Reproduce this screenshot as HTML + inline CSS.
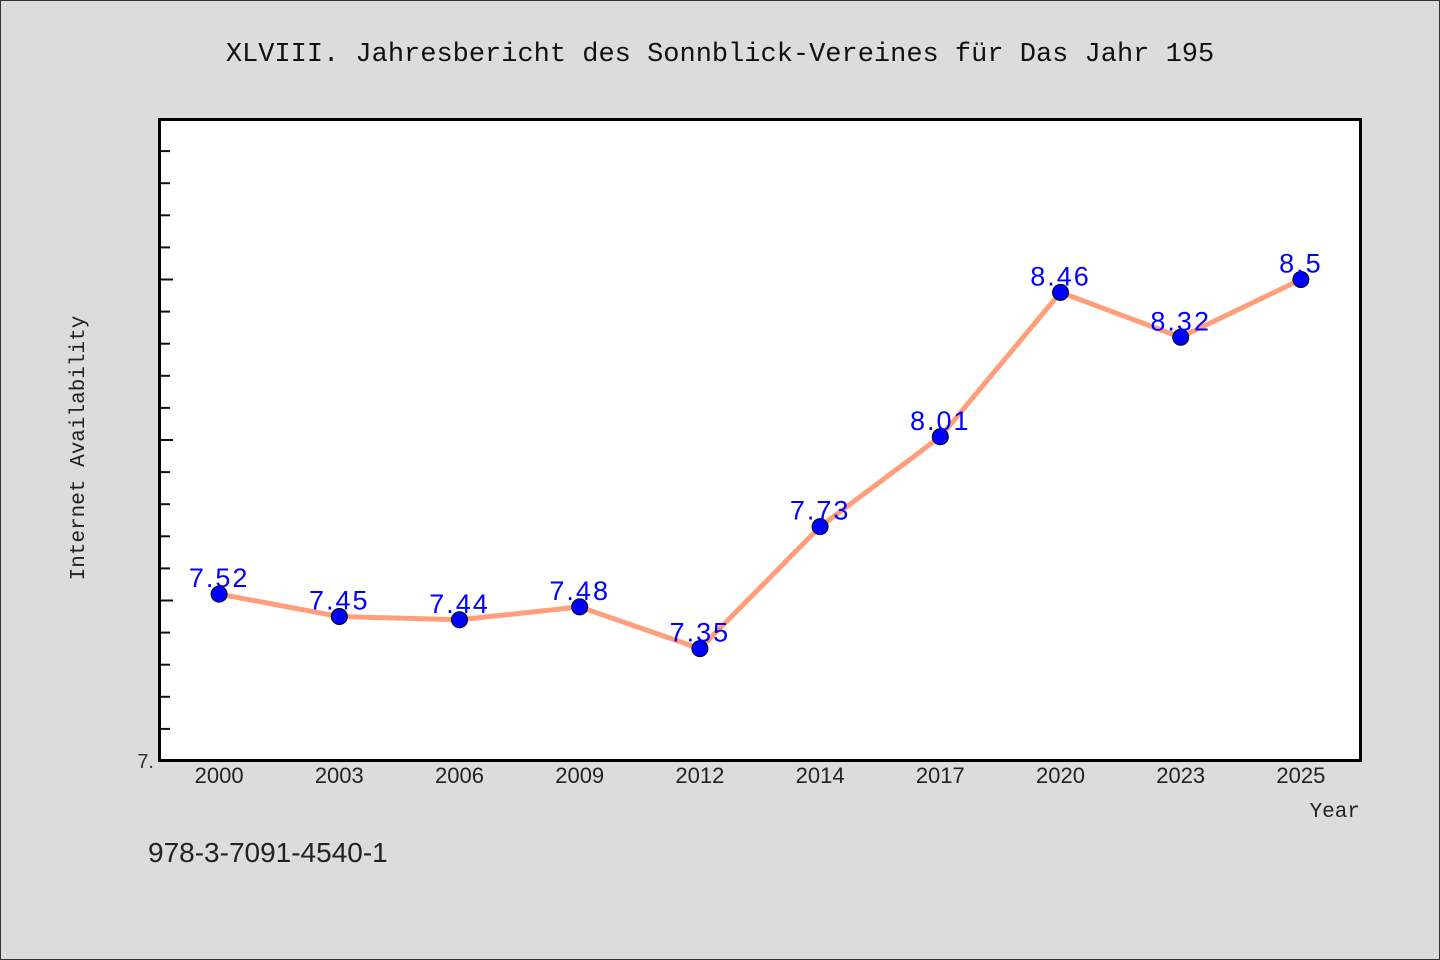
<!DOCTYPE html>
<html><head><meta charset="utf-8"><style>
body{margin:0;background:#dcdcdc;}
svg{display:block}
</style></head><body>
<svg width="1440" height="960" xmlns="http://www.w3.org/2000/svg">
<rect x="0.5" y="0.5" width="1439" height="959" fill="#dcdcdc" stroke="#333"/>
<text x="720" y="61" text-anchor="middle" font-family="'Liberation Mono','Noto Sans CJK JP',monospace" font-size="27" fill="#111">XLVIII. Jahresbericht des Sonnblick-Vereines für Das Jahr 195</text>
<rect x="159.5" y="119.5" width="1201" height="641" fill="#fff" stroke="#000" stroke-width="3"/>
<g id="yticks"></g>
<g id="xticks"></g>
<text transform="translate(84,448) rotate(-90)" text-anchor="middle" font-family="'Liberation Mono',monospace" font-size="21" fill="#222">Internet Availability</text>
<text x="1360" y="817" text-anchor="end" font-family="'Liberation Mono',monospace" font-size="21" fill="#222">Year</text>
<text x="148" y="862" font-family="'Liberation Sans','Noto Sans CJK JP',sans-serif" font-size="28" fill="#222">978-3-7091-4540-1</text>
<g id="series"></g>
</svg>
<script>
const categories=["2000","2003","2006","2009","2012","2014","2017","2020","2023","2025"];
const values=[7.52,7.45,7.44,7.48,7.35,7.73,8.01,8.46,8.32,8.5];
const labels=["7.52","7.45","7.44","7.48","7.35","7.73","8.01","8.46","8.32","8.5"];
const yMin=7,yMax=9;
const NS="http://www.w3.org/2000/svg";
const L=159,R=1361,T=119,B=761;
const band=(R-L)/categories.length;
const x=i=>L+band*(i+0.5);
const y=v=>B-(v-yMin)/(yMax-yMin)*(B-T);
function mk(t,a,p){const e=document.createElementNS(NS,t);for(const k in a)e.setAttribute(k,a[k]);p.appendChild(e);return e;}
const yt=document.getElementById('yticks');
for(let k=1;k<20;k++){const v=yMin+k*0.1;const major=k%5===0;
const l=mk('line',{x1:161,x2:major?173:170,y1:y(v),y2:y(v),stroke:'#111','stroke-width':2},yt);

}
const yl=mk('text',{x:154,y:768,'text-anchor':'end','font-family':"'Liberation Sans',sans-serif",'font-size':20,fill:'#333'},yt);
yl.textContent="7.";


const xt=document.getElementById('xticks');
categories.forEach((c,i)=>{
const t=mk('text',{x:x(i),y:783,'text-anchor':'middle','font-family':"'Liberation Sans',sans-serif",'font-size':22,fill:'#222'},xt);
t.textContent=c;

});
const s=document.getElementById('series');
const pl=mk('polyline',{points:values.map((v,i)=>x(i)+','+y(v)).join(' '),fill:'none',stroke:'#ff9e7a','stroke-width':5,'stroke-linejoin':'round'},s);


values.forEach((v,i)=>{
const c=mk('circle',{cx:x(i),cy:y(v),r:8,fill:'#0000ff',stroke:'#000','stroke-width':1},s);


const t=mk('text',{x:x(i),y:y(v)-7,'text-anchor':'middle','font-family':"'Liberation Sans',sans-serif",'font-size':27,fill:'#0000ff','letter-spacing':'2'},s);
t.textContent=labels[i];

});
</script>
</body></html>
